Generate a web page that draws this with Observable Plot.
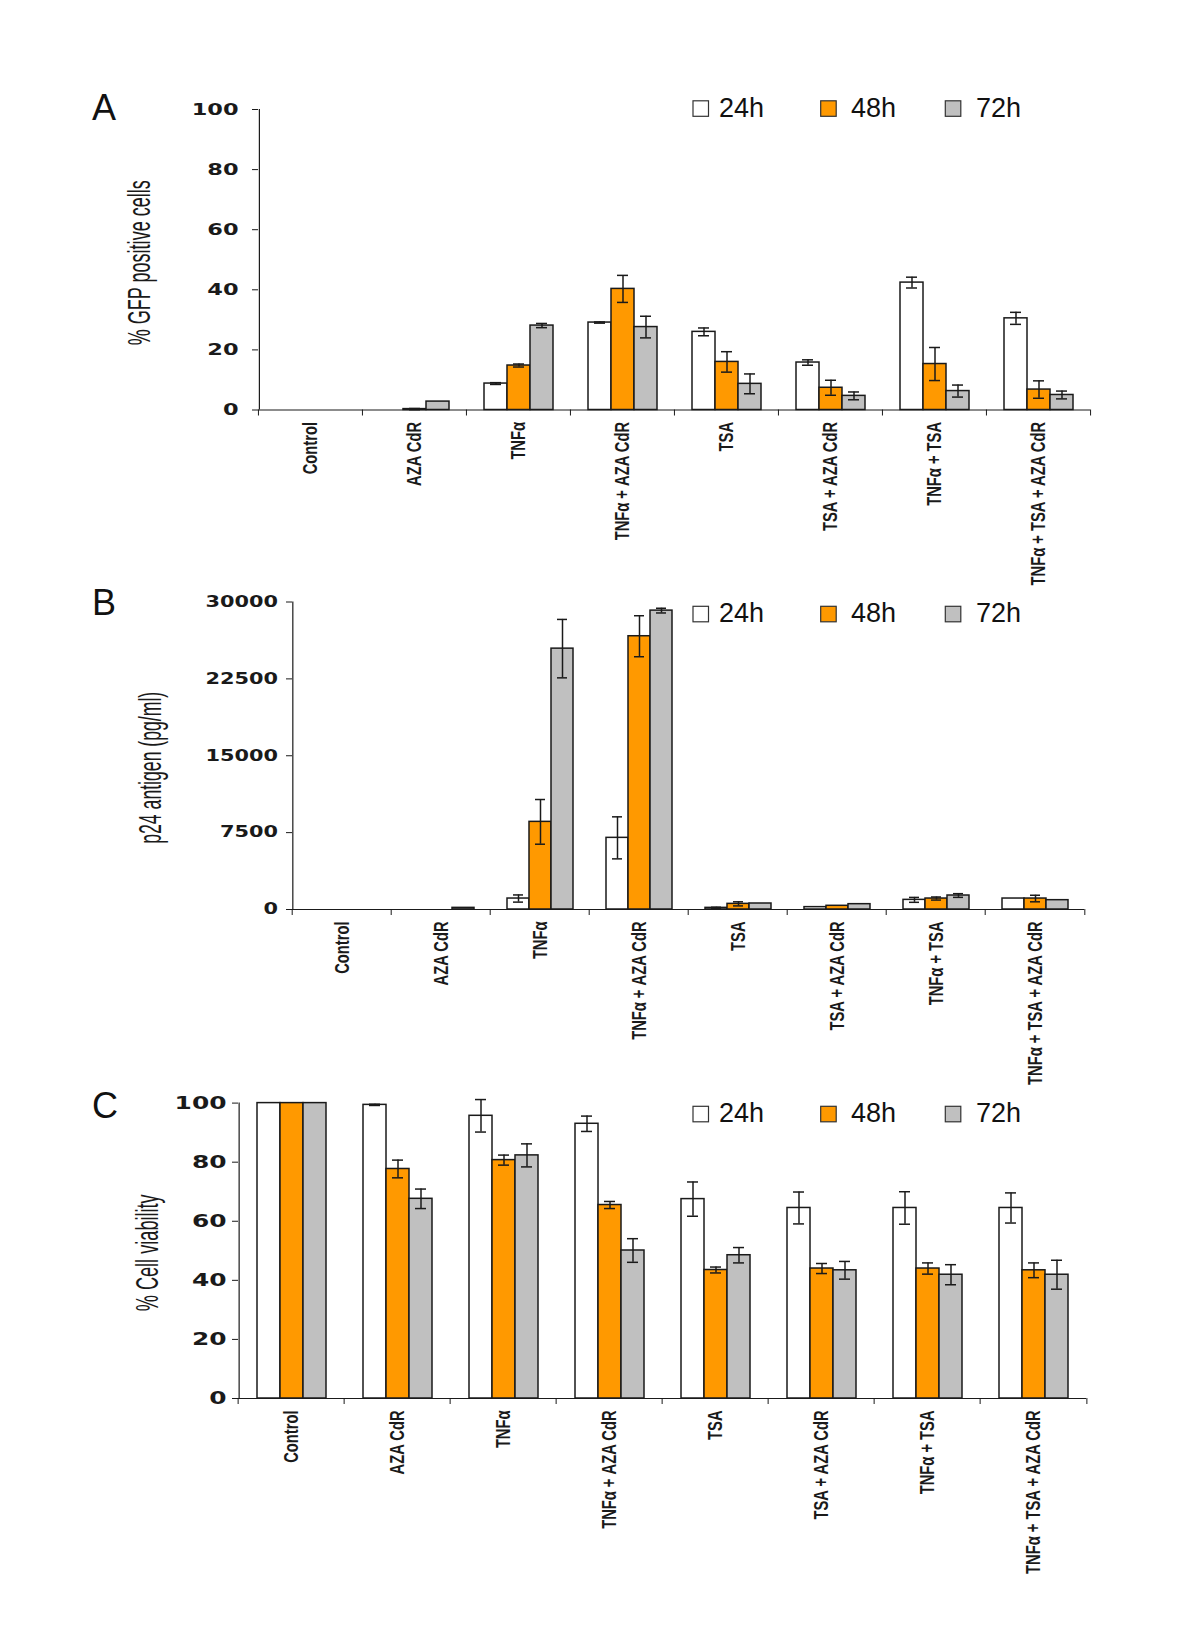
<!DOCTYPE html>
<html><head><meta charset="utf-8">
<script src="https://cdn.jsdelivr.net/npm/d3@7"></script>
<script src="https://cdn.jsdelivr.net/npm/@observablehq/plot@0.6"></script>
<style>
body{margin:0;background:#fff}
#page{position:relative;width:1200px;height:1642px;background:#fff;overflow:hidden}
</style></head>
<body><div id="page"></div>
<script>
// ---------- data ----------
const categories = ["Control","AZA CdR","TNFα","TNFα + AZA CdR","TSA","TSA + AZA CdR","TNFα + TSA","TNFα + TSA + AZA CdR"];
const series = ["24h","48h","72h"];
const seriesColors = ["#ffffff","#ff9900","#c0c0c0"];

// Panel A: % GFP positive cells
const gfp24 = [0, 0, 8.8, 29.1, 26.0, 15.8, 42.4, 30.5];
const gfp48 = [0, 0.3, 14.8, 40.3, 16.0, 7.4, 15.3, 6.8];
const gfp72 = [0, 2.8, 28.1, 27.6, 8.7, 4.7, 6.3, 5.0];
const gfpErr24 = [0, 0, 0.3, 0.2, 1.3, 0.9, 1.8, 2.0];
const gfpErr48 = [0, 0.2, 0.5, 4.5, 3.4, 2.5, 5.5, 2.9];
const gfpErr72 = [0, 0, 0.7, 3.6, 3.3, 1.3, 2.0, 1.3];
const gfpTicks = [0, 20, 40, 60, 80, 100];

// Panel B: p24 antigen (pg/ml)
const p24_24 = [0, 0, 1070, 6990, 160, 230, 940, 1070];
const p24_48 = [0, 0, 8550, 26660, 550, 360, 1070, 1070];
const p24_72 = [0, 160, 25450, 29160, 585, 520, 1365, 910];
const p24Err24 = [0, 0, 350, 2050, 60, 0, 240, 0];
const p24Err48 = [0, 0, 2180, 2000, 200, 0, 150, 320];
const p24Err72 = [0, 0, 2850, 230, 0, 0, 180, 0];
const p24Ticks = [0, 7500, 15000, 22500, 30000];

// Panel C: % Cell viability
const via24 = [100, 99.4, 95.7, 93.0, 67.5, 64.5, 64.5, 64.5];
const via48 = [100, 77.7, 80.7, 65.5, 43.5, 44.0, 44.0, 43.4];
const via72 = [100, 67.6, 82.3, 50.1, 48.5, 43.4, 41.9, 41.9];
const viaErr24 = [0, 0.2, 5.5, 2.6, 5.8, 5.4, 5.5, 5.1];
const viaErr48 = [0, 3.0, 1.7, 1.2, 1.0, 1.7, 1.9, 2.5];
const viaErr72 = [0, 3.3, 3.9, 4.0, 2.6, 3.0, 3.4, 4.9];
const viaTicks = [0, 20, 40, 60, 80, 100];

// ---------- helpers ----------
function makeRows(vals, errs) {
  const rows = [];
  categories.forEach((c, i) => series.forEach((s, j) => rows.push({cat: c, series: s, value: vals[j][i], err: errs[j][i]})));
  return rows;
}

const page = document.getElementById("page");
const W = 1200;
const ink = "#1a1a1a";

const panels = [
  {letter: "A", top: 80, height: 520, ml: 257, mr: 110, mt: 29, mb: 190.5,
   vals: [gfp24, gfp48, gfp72], errs: [gfpErr24, gfpErr48, gfpErr72], domain: [0, 100], ticks: gfpTicks,
   label: "% GFP positive cells", labelOffset: 131, labelShift: 3, labelLength: 165,
   tickFont: 16, tickPad: 14, perChar: 15.6, xPad: 0.72, legendY: 108.5, letterY: 120},
  {letter: "B", top: 590, height: 500, ml: 289, mr: 114, mt: 11.5, mb: 181,
   vals: [p24_24, p24_48, p24_72], errs: [p24Err24, p24Err48, p24Err72], domain: [0, 30000], ticks: p24Ticks,
   label: "p24 antigen (pg/ml)", labelOffset: 154, labelShift: 12, labelLength: 152,
   tickFont: 15, tickPad: 8.5, perChar: 14.5, xPad: 0.75, legendY: 614, letterY: 615},
  {letter: "C", top: 1090, height: 520, ml: 235, mr: 111, mt: 12.6, mb: 212,
   vals: [via24, via48, via72], errs: [viaErr24, viaErr48, viaErr72], domain: [0, 100], ticks: viaTicks,
   label: "% Cell viability", labelOffset: 103, labelShift: 2, labelLength: 117,
   tickFont: 17, tickPad: 6, perChar: 17.3, xPad: 0.77, legendY: 1114, letterY: 1118}
];

const catFont = 21;       // drawn size of the bold category labels
const catSqueeze = 0.70;  // they are condensed in the original

panels.forEach(p => {
  const rows = makeRows(p.vals, p.errs);
  const withErr = rows.filter(d => d.err > 0);
  const bw = (W - p.ml - p.mr) / categories.length;
  const step = bw / (series.length + 2 * p.xPad);   // width of one bar
  const firstBarCenter = step * (p.xPad + 0.5);     // offset of the first bar's centre from the group's left edge
  const svg = Plot.plot({
    width: W, height: p.height,
    marginLeft: p.ml, marginRight: p.mr, marginTop: p.mt, marginBottom: p.mb,
    style: {background: "transparent", overflow: "visible", fontFamily: "'Liberation Sans', Arial, sans-serif", color: ink},
    fx: {domain: categories, padding: 0, label: null, axis: null},
    x: {domain: series, paddingInner: 0, paddingOuter: p.xPad, axis: null},
    y: {domain: p.domain, axis: null},
    color: {domain: series, range: seriesColors},
    marks: [
      Plot.barY(rows, {fx: "cat", x: "series", y: "value", fill: "series", stroke: ink, strokeWidth: 1.5}),
      Plot.ruleX(withErr, {fx: "cat", x: "series", y1: d => d.value - d.err, y2: d => d.value + d.err, stroke: ink, strokeWidth: 1.5}),
      Plot.tickY(withErr, {fx: "cat", x: "series", y: d => d.value - d.err, stroke: ink, strokeWidth: 1.5, insetLeft: 6, insetRight: 6}),
      Plot.tickY(withErr, {fx: "cat", x: "series", y: d => d.value + d.err, stroke: ink, strokeWidth: 1.5, insetLeft: 6, insetRight: 6}),
      Plot.ruleY([p.domain[0]], {stroke: ink, strokeWidth: 1.2}),
      // y-axis line, at the left edge of the first category group
      Plot.ruleX([{cat: categories[0], series: series[0]}], {fx: "cat", x: "series", y1: p.domain[0], y2: p.domain[1],
                  dx: -firstBarCenter, stroke: ink, strokeWidth: 1.2}),
      Plot.axisY({ticks: p.ticks, tickSize: 6, tickPadding: p.tickPad, tickFormat: "d", label: null,
                  fontFamily: "'DejaVu Sans', sans-serif", fontWeight: "bold", fontSize: p.tickFont}),
      Plot.axisY({ticks: [], label: p.label, labelAnchor: "center", labelArrow: "none", labelOffset: p.labelOffset,
                  fontSize: 31}),
      Plot.axisFx({anchor: "bottom", tickSize: 0, tickPadding: 12, tickRotate: -90, fontWeight: "bold", fontSize: catFont, label: null}),
      Plot.axisFx({anchor: "bottom", tickSize: 6, dx: -bw / 2, tickFormat: () => "", label: null}),
      Plot.axisFx({anchor: "bottom", ticks: [categories[categories.length - 1]], tickSize: 6, dx: bw / 2, tickFormat: () => "", label: null})
    ]
  });
  svg.style.position = "absolute";
  svg.style.left = "0px";
  svg.style.top = p.top + "px";
  page.appendChild(svg);
  // widen y tick labels (the original uses a very wide bold face)
  svg.querySelectorAll('[aria-label="y-axis tick label"] text').forEach(t => {
    t.setAttribute("textLength", t.textContent.length * p.perChar);
    t.setAttribute("lengthAdjust", "spacingAndGlyphs");
  });
  // condensed y title, nudged to its place
  svg.querySelectorAll('[aria-label="y-axis label"]').forEach(g => {
    g.setAttribute("transform", ((g.getAttribute("transform") || "") + ` translate(0,${p.labelShift})`).trim());
    g.querySelectorAll("text").forEach(t => {
      t.setAttribute("textLength", p.labelLength);
      t.setAttribute("lengthAdjust", "spacingAndGlyphs");
    });
  });
  // condensed bold category labels
  svg.querySelectorAll('[aria-label="fx-axis tick label"] text').forEach(t => {
    if (!t.textContent) return;
    const len = t.getComputedTextLength();
    if (len > 0) {
      t.setAttribute("textLength", len * catSqueeze);
      t.setAttribute("lengthAdjust", "spacingAndGlyphs");
    }
  });
});

// ---------- overlay: panel letters and legends ----------
const legendSquareX = [693, 820.7, 945.3];
const legendTextX = [719, 851, 976];
const overlay = d3.select(page).append("svg")
  .attr("width", W).attr("height", 1642)
  .style("position", "absolute").style("left", "0px").style("top", "0px")
  .style("pointer-events", "none")
  .style("font-family", "'Liberation Sans', Arial, sans-serif");

panels.forEach(p => {
  overlay.append("text").attr("x", 92).attr("y", p.letterY)
    .attr("font-size", 36).attr("fill", "#111").text(p.letter);
  const g = overlay.append("g");
  series.forEach((s, j) => {
    g.append("rect").attr("x", legendSquareX[j]).attr("y", p.legendY - 7.7)
      .attr("width", 15.5).attr("height", 15.5)
      .attr("fill", seriesColors[j]).attr("stroke", "#333").attr("stroke-width", 1.2);
    g.append("text").attr("x", legendTextX[j]).attr("y", p.legendY + 8.3)
      .attr("font-size", 27).attr("fill", "#111").text(s);
  });
});
</script>
</body></html>
